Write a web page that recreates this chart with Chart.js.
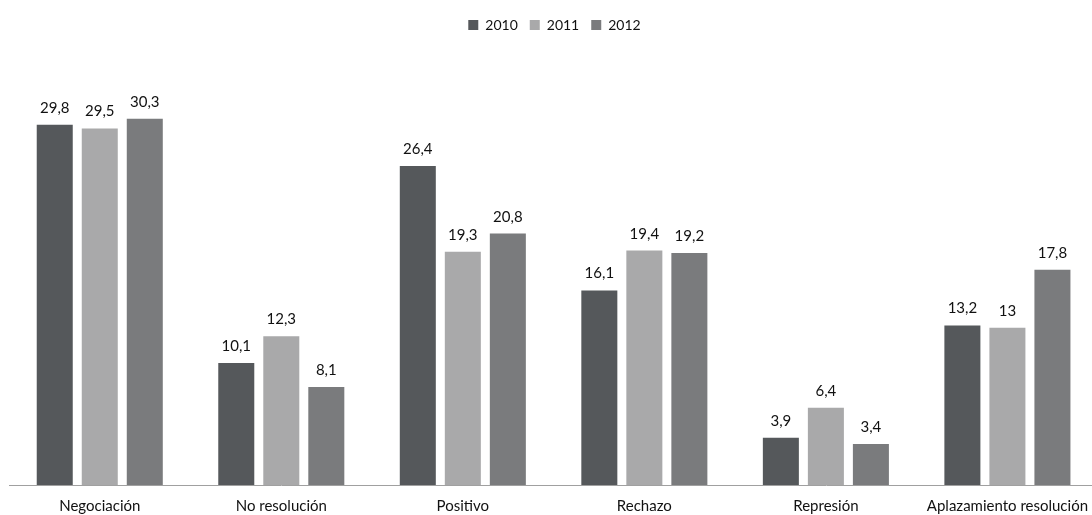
<!DOCTYPE html>
<html>
<head>
<meta charset="utf-8">
<script src="https://cdn.jsdelivr.net/npm/chart.js@4"></script>
<style>
  html, body { margin: 0; padding: 0; background: #fff; overflow: hidden; }
  #wrap { width: 1100px; height: 527px; }
</style>
</head>
<body>
<div id="wrap"><canvas id="chart"></canvas></div>
<script>
// categorias y valores
const categorias = ['Negociación', 'No resolución', 'Positivo', 'Rechazo', 'Represión', 'Aplazamiento resolución'];
const anios = ['2010', '2011', '2012'];
const valores2010 = [29.8, 10.1, 26.4, 16.1, 3.9, 13.2];
const valores2011 = [29.5, 12.3, 19.3, 19.4, 6.4, 13];
const valores2012 = [30.3, 8.1, 20.8, 19.2, 3.4, 17.8];
const colores = ['#55585b', '#a9a9aa', '#7a7b7d'];
const fuente = 'Lato, "Open Sans", sans-serif';

// etiquetas encima de las barras
const etiquetas = {
  id: 'etiquetas',
  afterDatasetsDraw(chart) {
    const ctx = chart.ctx;
    ctx.save();
    ctx.font = '15px ' + fuente;
    ctx.fillStyle = '#111';
    ctx.textAlign = 'center';
    ctx.textBaseline = 'alphabetic';
    chart.data.datasets.forEach((ds, i) => {
      chart.getDatasetMeta(i).data.forEach((bar, j) => {
        ctx.fillText(String(ds.data[j]).replace('.', ','), bar.x, bar.y - 12);
      });
    });
    ctx.restore();
  }
};

const ctx = document.getElementById('chart').getContext('2d');
new Chart(ctx, {
  type: 'bar',
  data: {
    labels: categorias,
    datasets: [
      { label: anios[0], data: valores2010, backgroundColor: colores[0] },
      { label: anios[1], data: valores2011, backgroundColor: colores[1] },
      { label: anios[2], data: valores2012, backgroundColor: colores[2] }
    ]
  },
  options: {
    responsive: true,
    maintainAspectRatio: false,
    animation: false,
    categoryPercentage: 0.744,
    barPercentage: 0.8,
    layout: { padding: { left: 9, right: 0, top: 6, bottom: 0 } },
    plugins: {
      legend: {
        position: 'top',
        labels: {
          boxWidth: 10,
          boxHeight: 10,
          padding: 12,
          color: '#111',
          font: { family: fuente, size: 14 }
        }
      },
      tooltip: { enabled: false }
    },
    scales: {
      x: {
        grid: { display: false, drawTicks: false },
        border: { color: '#a0a0a0', width: 1 },
        ticks: {
          padding: 12,
          color: '#111',
          maxRotation: 0,
          autoSkip: false,
          font: { family: fuente, size: 15 }
        }
      },
      y: {
        display: false,
        min: 0,
        max: 36.65
      }
    }
  },
  plugins: [etiquetas]
});
</script>
</body>
</html>
